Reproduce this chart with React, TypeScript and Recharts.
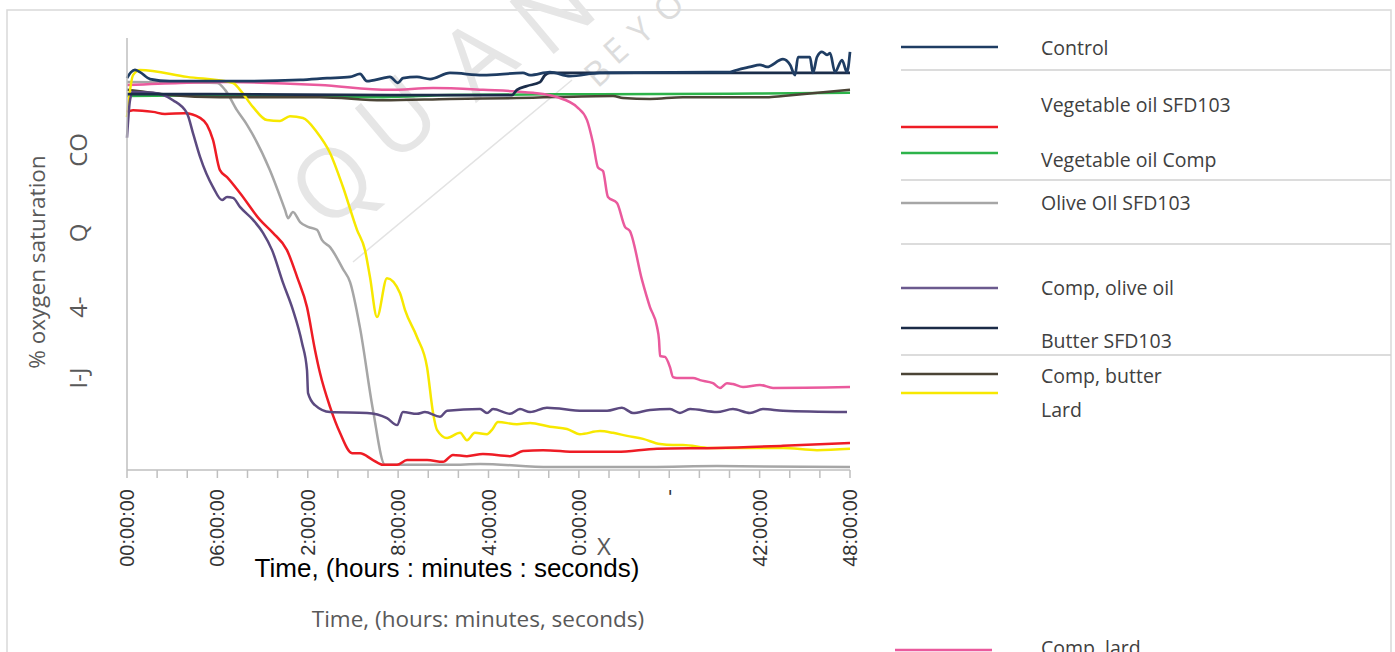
import React from "react";
import { LineChart, Line, XAxis, YAxis } from "recharts";

type Pt = [number, number];

// time in hours, % oxygen saturation
const control: Pt[] = [
  [0, 90.7], [0.27, 92.1], [0.53, 92.6], [0.86, 92.1], [1.53, 90.5], [2.85, 90.0], [6.84, 90.0],
  [11.49, 90.3], [13.28, 90.7], [14.81, 91.0], [15.47, 91.7], [15.93, 90.0], [17.0, 90.7],
  [17.46, 91.0], [17.99, 89.6], [18.32, 90.7], [19.25, 91.0], [20.12, 90.5], [21.44, 91.9],
  [23.63, 91.4], [26.29, 91.9], [26.76, 91.4], [28.08, 92.1], [29.41, 91.2], [31.4, 91.9],
  [38.71, 92.1], [40.03, 92.1], [40.5, 92.6], [41.36, 93.3], [42.02, 93.8], [42.49, 93.3],
  [43.55, 95.1], [44.02, 93.8], [44.35, 91.4], [44.55, 95.6], [45.34, 95.6], [45.54, 91.9],
  [45.81, 95.6], [46.14, 96.8], [46.47, 96.1], [46.68, 96.5], [47.0, 92.1], [47.47, 94.9],
  [47.8, 92.1], [48, 96.8],
];

const vegOilSfd: Pt[] = [
  [0, 82.9], [0.4, 83.3], [1.73, 82.9], [2.52, 82.4], [3.85, 82.6], [4.85, 81.5], [5.31, 79.9],
  [5.71, 76.4], [6.17, 69.4], [6.64, 67.8], [7.5, 64.1], [8.83, 57.9], [9.69, 54.9], [10.62, 50.9],
  [11.29, 44.7], [11.95, 37.7], [12.48, 27.8], [12.81, 22.5], [13.48, 14.6], [14.14, 8.6],
  [14.94, 3.9], [15.47, 3.9], [16.33, 2.3], [16.99, 1.2], [17.93, 1.2], [18.59, 2.3], [19.92, 2.3],
  [20.98, 1.9], [21.64, 3.5], [22.57, 3.2], [23.63, 3.7], [25.43, 3.2], [26.29, 4.4], [27.62, 4.6],
  [29.88, 4.2], [32.53, 4.2], [35.19, 4.9], [39.17, 5.1], [43.55, 5.6], [48, 6.25],
];

const vegOilComp: Pt[] = [
  [0, 86.6], [8.17, 86.8], [17.0, 86.3], [21.44, 86.8], [31.4, 87.0], [40, 87.1], [48, 87.3],
];

const oliveOilSfd: Pt[] = [
  [0, 89.8], [5.98, 89.6], [6.51, 88.0], [7.3, 83.3], [7.97, 79.9], [9.49, 69.4], [10.49, 60.2],
  [10.69, 58.3], [11.02, 59.7], [11.49, 57.4], [12.02, 56.3], [12.61, 55.6], [12.95, 53.2],
  [13.48, 51.6], [14.34, 46.5], [14.81, 43.5], [15.47, 32.9], [16.33, 13.9], [17.13, 1.2],
  [21.44, 1.2], [23.44, 1.4], [28.08, 0.7], [34.72, 0.7], [39.17, 0.9], [48, 0.7],
];

const compOliveOil: Pt[] = [
  [0, 76.9], [0.2, 85.6], [0.4, 87.5], [1.73, 87.3], [3.05, 85.6], [3.98, 82.6], [4.38, 78.0],
  [4.85, 72.5], [5.71, 65.5], [6.31, 62.5], [6.64, 63.2], [7.04, 63.0], [7.5, 60.9], [8.37, 57.9],
  [9.03, 54.9], [9.63, 50.9], [10.36, 43.3], [11.02, 37.0], [11.62, 29.4], [11.95, 23.1],
  [12.02, 17.8], [12.48, 15.0], [13.48, 13.4], [15.93, 13.2], [17.26, 12.0], [17.93, 10.4],
  [18.32, 13.4], [19.25, 13.0], [19.78, 13.4], [20.78, 12.3], [21.25, 13.7], [23.44, 14.1],
  [23.9, 13.2], [24.3, 14.1], [25.43, 13.0], [26.09, 14.1], [26.76, 13.4], [27.88, 14.4],
  [30.27, 13.7], [31.87, 13.7], [32.86, 14.4], [33.59, 13.2], [34.72, 13.9], [36.05, 14.1],
  [36.71, 13.2], [37.38, 14.1], [39.17, 13.4], [40.23, 14.1], [41.36, 13.2], [42.22, 14.1],
  [43.55, 13.7], [47.8, 13.4],
];

const butterSfd: Pt[] = [
  [0, 87.0], [4.85, 87.0], [18.12, 86.8], [25.56, 86.8], [25.89, 88.0], [26.56, 88.9],
  [27.42, 89.8], [27.75, 91.4], [28.08, 91.9], [34.72, 91.9], [48, 91.9],
];

const compButter: Pt[] = [
  [0, 88.0], [0.86, 87.7], [2.85, 86.8], [6.17, 86.3], [12.81, 86.3], [17.0, 85.6], [21.44, 85.9],
  [25.89, 86.1], [32.27, 86.6], [32.93, 86.1], [34.72, 85.9], [36.91, 86.3], [42.49, 86.3],
  [43.55, 86.6], [48, 88.0],
];

const lard: Pt[] = [
  [0, 81.7], [0.4, 91.4], [0.86, 92.6], [3.98, 91.0], [7.04, 89.6], [7.5, 88.0], [8.37, 84.0],
  [9.29, 81.0], [10.16, 80.8], [10.82, 81.9], [11.68, 81.5], [12.61, 78.2], [13.48, 73.4],
  [14.34, 65.5], [15.27, 55.6], [15.8, 50.9], [16.13, 44.7], [16.6, 35.4], [17.26, 44.4],
  [18.12, 41.0], [18.46, 37.0], [19.25, 30.8], [19.92, 23.8], [20.32, 13.2], [20.58, 9.3],
  [21.25, 7.4], [22.11, 8.6], [22.57, 6.9], [23.1, 8.6], [23.9, 8.3], [24.23, 9.3], [24.63, 11.1],
  [25.89, 10.6], [26.76, 10.9], [28.08, 10.0], [29.21, 9.5], [30.07, 8.3], [31.4, 9.0],
  [32.27, 8.6], [33.2, 7.9], [34.26, 7.2], [35.39, 6.0], [36.25, 5.8], [36.91, 5.8], [38.71, 5.1],
  [41.36, 5.1], [43.55, 5.1], [45.81, 4.6], [48, 4.9],
];

const compLard: Pt[] = [
  [0, 89.1], [3.52, 89.6], [6.84, 89.8], [12.81, 89.1], [17.46, 88.0], [20.32, 88.4], [23.63, 88.0],
  [26.95, 87.3], [28.55, 86.3], [29.88, 84.0], [30.54, 81.0], [30.94, 75.7], [31.27, 70.0],
  [31.6, 69.2], [31.93, 63.2], [32.53, 61.8], [33.06, 56.3], [33.39, 55.3], [34.19, 44.0],
  [34.72, 37.7], [35.19, 33.1], [35.32, 30.1], [35.39, 26.4], [35.72, 26.2], [36.05, 23.8],
  [36.25, 21.5], [36.51, 21.3], [37.58, 21.3], [38.04, 20.8], [38.9, 20.1], [39.37, 19.0],
  [39.83, 20.1], [40.23, 19.9], [40.9, 19.2], [42.02, 19.7], [42.89, 19.0], [48, 19.2],
];

const xTicks = [0, 2, 4, 6, 8, 10, 12, 14, 16, 18, 20, 22, 24, 26, 28, 30, 32, 34, 36, 38, 40, 42, 44, 46, 48];
const xLabelHours = [0, 6, 12, 18, 24, 30, 36, 42, 48];
const xLabelTexts = ["00:00:00", "06:00:00", "2:00:00", "8:00:00", "4:00:00", "0:00:00", "-", "42:00:00", "48:00:00"];
const yTickValues = [21.3, 37.7, 54.9, 74.1];
const yTickLabels = ["I-J", "4-", "Q", "CO"];

const toRows = (pts: Pt[]) => pts.map(([t, v]) => ({ t, v }));

// draw order (later on top)
const series = [
  { name: "Olive OIl SFD103", color: "#a6a6a6", points: oliveOilSfd, width: 2.5 },
  { name: "Vegetable oil Comp", color: "#2db34a", points: vegOilComp, width: 2.5 },
  { name: "Comp, butter", color: "#4b4436", points: compButter, width: 2.5 },
  { name: "Comp, lard", color: "#ea5a9d", points: compLard, width: 2.5 },
  { name: "Lard", color: "#f7e800", points: lard, width: 2.5 },
  { name: "Vegetable oil SFD103", color: "#ee1c25", points: vegOilSfd, width: 2.5 },
  { name: "Comp, olive oil", color: "#5c4a80", points: compOliveOil, width: 2.5 },
  { name: "Butter SFD103", color: "#1b2d4a", points: butterSfd, width: 2.75 },
  { name: "Control", color: "#1f3d63", points: control, width: 2.75 },
];

const legendRows = [
  { name: "Control", color: "#1f3d63", lineY: 47, textY: 55, lineX: 901 },
  { name: "Vegetable oil SFD103", color: "#ee1c25", lineY: 127, textY: 112, lineX: 901 },
  { name: "Vegetable oil Comp", color: "#2db34a", lineY: 153, textY: 167, lineX: 901 },
  { name: "Olive OIl SFD103", color: "#a6a6a6", lineY: 203, textY: 210, lineX: 901 },
  { name: "Comp, olive oil", color: "#6b5a8e", lineY: 288, textY: 295, lineX: 901 },
  { name: "Butter SFD103", color: "#1b2b47", lineY: 328, textY: 348, lineX: 901 },
  { name: "Comp, butter", color: "#4b4436", lineY: 374, textY: 383, lineX: 901 },
  { name: "Lard", color: "#f7e800", lineY: 393, textY: 417, lineX: 901 },
  { name: "Comp, lard", color: "#ea5a9d", lineY: 650, textY: 655, lineX: 895 },
];
const legendSeparators = [70, 180, 244, 355];

const sans = "'Open Sans', 'Noto Sans', sans-serif";
const arial = "'Liberation Sans', Arial, sans-serif";

function XTick(props: any) {
  const { x, y, payload } = props;
  const i = xLabelHours.indexOf(payload.value);
  if (i < 0) return <g />;
  const ty = y + 9;
  return (
    <text x={x} y={ty} transform={`rotate(-90 ${x} ${ty})`} textAnchor="end" dy="0.35em"
      fontSize={20} fontFamily={arial} fill="#333">
      {xLabelTexts[i]}
    </text>
  );
}

function YTick(props: any) {
  const { y, payload } = props;
  const i = yTickValues.indexOf(payload.value);
  if (i < 0) return <g />;
  return (
    <text x={78} y={y} transform={`rotate(-90 78 ${y})`} textAnchor="middle" dominantBaseline="central"
      fontSize={24} fontFamily={sans} fill="#595959">
      {yTickLabels[i]}
    </text>
  );
}

function Backdrop() {
  const wm = "#e6e6e6";
  return (
    <svg width={1395} height={652} style={{ position: "absolute", left: 0, top: 0 }}>
      <rect x={7} y={10} width={1384} height={720} fill="#fff" stroke="#d9d9d9" strokeWidth={1.5} />
      {/* watermark */}
      <line x1={353} y1={262} x2={572} y2={80} stroke="#e3e3e3" strokeWidth={1.5} />
      {[["Q", 330, 180], ["U", 395, 115], ["A", 475, 55], ["N", 550, 8]].map(([c, x, y]) => (
        <text key={c as string} x={x} y={y} transform={`rotate(-40 ${x} ${y})`} textAnchor="middle"
          dominantBaseline="central" fontSize={96} fontFamily={sans} fill={wm}>{c}</text>
      ))}
      {[["B", 597, 72], ["E", 615, 50], ["Y", 640, 30], ["O", 668, 6]].map(([c, x, y]) => (
        <text key={c as string} x={x} y={y} transform={`rotate(-42 ${x} ${y})`} textAnchor="middle"
          dominantBaseline="central" fontSize={34} fontFamily={sans} fill="#dcdcdc">{c}</text>
      ))}
      {/* titles */}
      <text x={36} y={262} transform="rotate(-90 36 262)" textAnchor="middle" dominantBaseline="central"
        fontSize={22.5} fontFamily={sans} fill="#595959">% oxygen saturation</text>
      <text x={604} y={555} textAnchor="middle" fontSize={24} fontFamily={sans} fill="#595959">X</text>
      <text x={447} y={577} textAnchor="middle" fontSize={26} fontFamily={arial} fill="#000">
        Time, (hours : minutes : seconds)
      </text>
      <text x={478} y={627} textAnchor="middle" fontSize={22.5} fontFamily={sans} fill="#595959">
        Time, (hours: minutes, seconds)
      </text>
      {/* legend */}
      {legendSeparators.map((y) => (
        <line key={y} x1={901} y1={y} x2={1391} y2={y} stroke="#d0d0d0" strokeWidth={1.5} />
      ))}
      {legendRows.map((r) => (
        <g key={r.name}>
          <line x1={r.lineX} y1={r.lineY} x2={r.lineX + 97} y2={r.lineY} stroke={r.color} strokeWidth={2.5} />
          <text x={1041} y={r.textY} fontSize={19.5} fontFamily={sans} fill="#404040">{r.name}</text>
        </g>
      ))}
    </svg>
  );
}

export default function App() {
  return (
    <div style={{ position: "absolute", left: 0, top: 0, width: 1395, height: 652, background: "#fff", overflow: "hidden" }}>
      <Backdrop />
      <div style={{ position: "absolute", left: 0, top: 0 }}>
        <LineChart width={1395} height={652} margin={{ top: 38, right: 545, bottom: 0, left: 67 }}>
          <XAxis
            type="number"
            dataKey="t"
            domain={[0, 48]}
            ticks={xTicks}
            interval={0}
            height={182}
            tickSize={8}
            axisLine={{ stroke: "#bfbfbf", strokeWidth: 1.5 }}
            tickLine={{ stroke: "#bfbfbf", strokeWidth: 1.5 }}
            tick={<XTick />}
          />
          <YAxis
            type="number"
            domain={[0, 100]}
            ticks={yTickValues}
            interval={0}
            width={60}
            axisLine={{ stroke: "#bfbfbf", strokeWidth: 1.5 }}
            tickLine={false}
            tick={<YTick />}
          />
          {series.map((s) => (
            <Line
              key={s.name}
              data={toRows(s.points)}
              dataKey="v"
              name={s.name}
              type="monotone"
              stroke={s.color}
              strokeWidth={s.width}
              dot={false}
              activeDot={false}
              isAnimationActive={false}
            />
          ))}
        </LineChart>
      </div>
    </div>
  );
}
